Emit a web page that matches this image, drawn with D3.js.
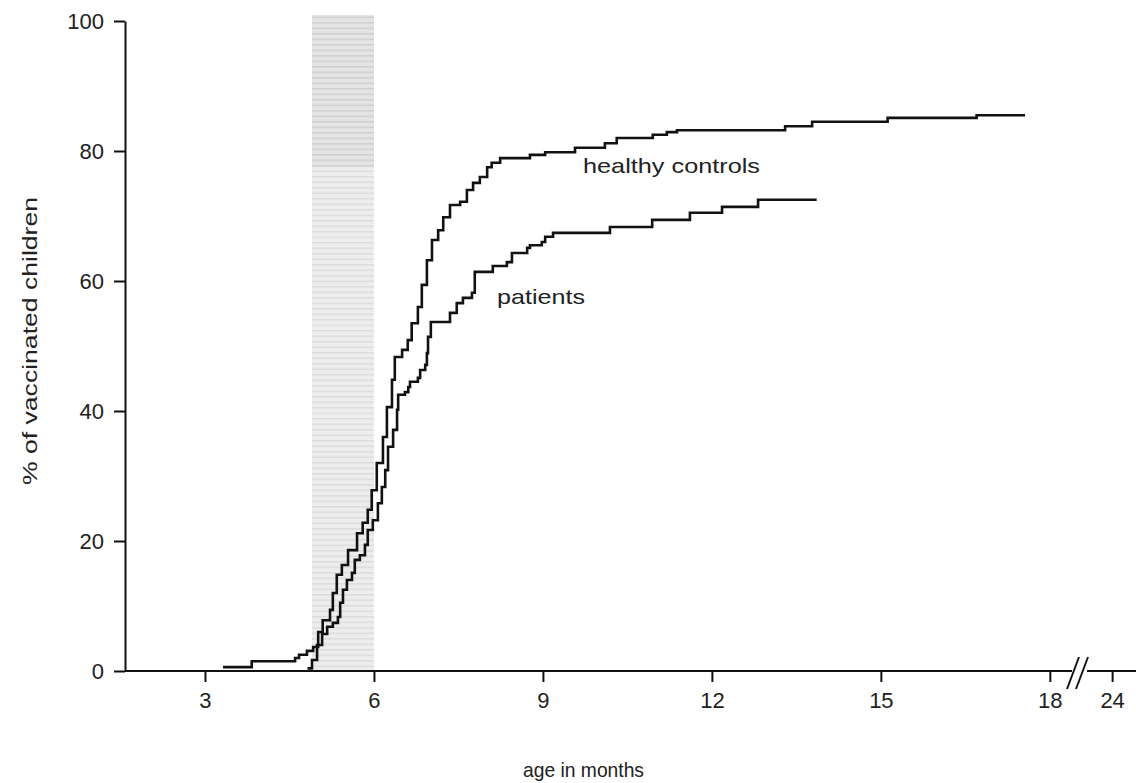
<html>
<head>
  <script src="https://d3js.org/d3.v7.min.js"></script>
  <style>
  body { margin: 0; background: #fff; }
  text { font-family: "Liberation Sans", Arial, sans-serif; fill: #222; }
  .axis line, .axis path { stroke: #111; stroke-width: 2; }
  .curve { fill: none; stroke: #111; stroke-width: 2.6; }
  </style>
</head>
<body>
  <svg id="plot" width="1136" height="783"></svg>
  <script>

// months, % vaccinated (Kaplan-Meier style step curves)
var controlsMonths = [3.32, 3.83, 4.60, 4.67, 4.81, 4.92, 5.01, 5.09, 5.22, 5.27, 5.34, 5.43, 5.54, 5.70, 5.80, 5.89, 5.96,
  6.05, 6.16, 6.23, 6.32, 6.37, 6.50, 6.60, 6.67, 6.78, 6.85, 6.94, 7.03, 7.14, 7.23, 7.35, 7.53, 7.65, 7.76, 7.88,
  8.01, 8.09, 8.24, 8.77, 9.04, 9.57, 10.10, 10.31, 10.95, 11.20, 11.38, 13.30, 13.78, 15.12, 16.70, 17.56];
var controlsPct = [0.6, 1.5, 2.0, 2.5, 3.1, 3.7, 6.0, 7.8, 9.4, 12.0, 14.8, 16.3, 18.6, 21.2, 22.8, 24.8, 27.8,
  32.0, 36.0, 40.6, 44.8, 48.3, 49.4, 50.9, 53.5, 56.0, 59.4, 63.2, 66.3, 67.8, 69.8, 71.7, 72.2, 74.0, 75.1, 76.0,
  77.5, 78.2, 78.9, 79.4, 79.8, 80.5, 81.2, 82.0, 82.5, 82.9, 83.2, 83.8, 84.5, 85.1, 85.5, 85.5];

var patientsMonths = [4.82, 4.90, 4.99, 5.08, 5.17, 5.27, 5.36, 5.40, 5.45, 5.52, 5.61, 5.66, 5.75, 5.84, 5.89, 5.98,
  6.07, 6.14, 6.20, 6.25, 6.34, 6.41, 6.43, 6.55, 6.61, 6.64, 6.78, 6.82, 6.91, 6.94, 6.96, 7.01, 7.35, 7.47, 7.58,
  7.74, 7.79, 8.11, 8.36, 8.45, 8.72, 8.77, 8.98, 9.04, 9.18, 10.19, 10.94, 11.61, 12.18, 12.82, 13.86];
var patientsPct = [0.4, 1.7, 4.0, 5.7, 6.8, 7.4, 8.3, 10.5, 12.5, 14.0, 15.1, 17.1, 17.8, 19.4, 21.7, 23.2,
  25.8, 28.3, 30.9, 34.5, 37.1, 40.2, 42.5, 42.9, 43.7, 44.5, 45.1, 46.3, 47.1, 48.9, 51.4, 53.7, 55.1, 56.6, 57.4,
  58.2, 61.4, 62.3, 62.9, 64.3, 65.1, 65.5, 66.0, 66.8, 67.4, 68.3, 69.4, 70.5, 71.4, 72.5, 72.5];

var xTicks = [3, 6, 9, 12, 15, 18, 24];
var yTicks = [0, 20, 40, 60, 80, 100];
var bandMonths = [4.9, 6.0];

var svg = d3.select("#plot");

// broken x axis: 1.58..18.5 linear, gap, then 23..24.7
var x = d3.scaleLinear()
  .domain([1.58, 18.5, 23, 24.7])
  .range([125, 1078, 1078, 1136]);
var y = d3.scaleLinear()
  .domain([0, 100])
  .range([671, 21]);

// shaded band with horizontal stripes
var defs = svg.append("defs");
var pat = defs.append("pattern")
  .attr("id", "stripes")
  .attr("patternUnits", "userSpaceOnUse")
  .attr("width", 10).attr("height", 5.5);
pat.append("rect").attr("width", 10).attr("height", 5.5).attr("fill", "#ededed");
pat.append("rect").attr("width", 10).attr("height", 1.5).attr("fill", "#dddddd");

var pat2 = defs.append("pattern")
  .attr("id", "stripesDark")
  .attr("patternUnits", "userSpaceOnUse")
  .attr("width", 10).attr("height", 5.5);
pat2.append("rect").attr("width", 10).attr("height", 5.5).attr("fill", "#e4e4e4");
pat2.append("rect").attr("width", 10).attr("height", 1.6).attr("fill", "#d0d0d0");

svg.append("rect")
  .attr("x", x(bandMonths[0]))
  .attr("y", 15)
  .attr("width", x(bandMonths[1]) - x(bandMonths[0]))
  .attr("height", y(0) - 15)
  .attr("fill", "url(#stripes)");
svg.append("rect")
  .attr("x", x(bandMonths[0]))
  .attr("y", 15)
  .attr("width", x(bandMonths[1]) - x(bandMonths[0]))
  .attr("height", y(77.5) - 15)
  .attr("fill", "url(#stripesDark)");

// y axis
var yAxis = svg.append("g")
  .attr("class", "axis")
  .attr("transform", "translate(125,0)")
  .call(d3.axisLeft(y).tickValues(yTicks).tickSize(11).tickSizeOuter(0));
yAxis.selectAll("text").attr("x", -21).style("font-size", "22px");

// x axis
var xAxis = svg.append("g")
  .attr("class", "axis")
  .attr("transform", "translate(0,671)")
  .call(d3.axisBottom(x).tickValues(xTicks).tickSize(11).tickSizeOuter(0));
xAxis.select(".domain").remove();
xAxis.selectAll("text").attr("y", 21).style("font-size", "22px");
xAxis.append("line").attr("x1", 125).attr("x2", 1072).attr("y1", 0).attr("y2", 0);
xAxis.append("line").attr("x1", 1087).attr("x2", 1136).attr("y1", 0).attr("y2", 0);
xAxis.append("line").attr("x1", 1067).attr("x2", 1079).attr("y1", 18).attr("y2", -14);
xAxis.append("line").attr("x1", 1076).attr("x2", 1088).attr("y1", 18).attr("y2", -14);

// curves
var line = d3.line()
  .x(function(d) { return x(d[0]); })
  .y(function(d) { return y(d[1]); })
  .curve(d3.curveStepAfter);

var controls = controlsMonths.map(function(m, i) { return [m, controlsPct[i]]; });
var patients = patientsMonths.map(function(m, i) { return [m, patientsPct[i]]; });

svg.append("path").attr("class", "curve").attr("d", line(controls));
svg.append("path").attr("class", "curve").attr("d", line(patients));

// labels
svg.append("text")
  .attr("x", 583).attr("y", 173)
  .style("font-size", "21px")
  .attr("textLength", 177).attr("lengthAdjust", "spacingAndGlyphs")
  .text("healthy controls");
svg.append("text")
  .attr("x", 497).attr("y", 304)
  .style("font-size", "21px")
  .attr("textLength", 88).attr("lengthAdjust", "spacingAndGlyphs")
  .text("patients");

svg.append("text")
  .attr("transform", "translate(37,341) rotate(-90)")
  .attr("x", -144)
  .style("font-size", "21px")
  .attr("textLength", 288).attr("lengthAdjust", "spacingAndGlyphs")
  .text("% of vaccinated children");

svg.append("text")
  .attr("x", 523).attr("y", 777)
  .style("font-size", "21px")
  .attr("textLength", 121).attr("lengthAdjust", "spacingAndGlyphs")
  .text("age in months");

  </script>
</body>
</html>
